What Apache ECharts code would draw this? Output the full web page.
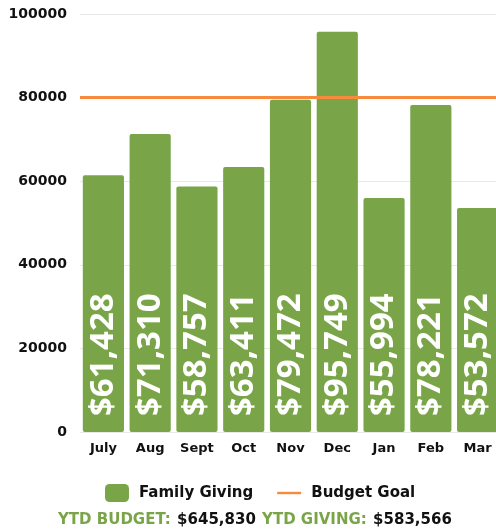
<!DOCTYPE html>
<html>
<head>
<meta charset="utf-8">
<script src="https://cdn.jsdelivr.net/npm/echarts@6/dist/echarts.min.js"></script>
<style>
  html, body { margin: 0; padding: 0; background: #fff; }
  #chart { width: 496px; height: 532px; }
</style>
</head>
<body>
<div id="chart"></div>
<script>
  const months = ['July', 'Aug', 'Sept', 'Oct', 'Nov', 'Dec', 'Jan', 'Feb', 'Mar'];
  const familyGiving = [61428, 71310, 58757, 63411, 79472, 95749, 55994, 78221, 53572];
  const budgetGoal = 80000;
  const yTicks = [0, 20000, 40000, 60000, 80000, 100000];
  const ytdBudget = '$645,830';
  const ytdGiving = '$583,566';

  const green = '#79a548';
  const orange = '#f78a3c';
  const font = 'DejaVu Sans';

  const chart = echarts.init(document.getElementById('chart'));

  chart.setOption({
    animation: false,
    textStyle: { fontFamily: font },
    title: {
      left: 53,
      top: 506,
      text: '{g|YTD BUDGET:} {b|' + ytdBudget + '} {g|YTD GIVING:} {b|' + ytdGiving + '}',
      textStyle: {
        rich: {
          g: { color: green, fontWeight: 'bold', fontSize: 15, fontFamily: font },
          b: { color: '#111', fontWeight: 'bold', fontSize: 15, fontFamily: font }
        }
      }
    },
    legend: {
      top: 479,
      left: 100,
      itemGap: 24,
      itemWidth: 24,
      itemHeight: 18,
      textStyle: {
        color: '#111', fontWeight: 'bold', fontSize: 15, fontFamily: font,
        padding: [0, 0, 0, 5]
      },
      data: [
        { name: 'Family Giving', icon: 'roundRect' },
        { name: 'Budget Goal', icon: 'path://M0,7H30V10H0Z' }
      ]
    },
    grid: {
      left: 80,
      right: -5,
      top: 14,
      bottom: 100,
      outerBoundsMode: 'none'
    },
    xAxis: {
      type: 'category',
      data: months,
      axisLine: { show: false },
      axisTick: { show: false },
      axisLabel: {
        color: '#111',
        fontWeight: 'bold',
        fontSize: 13,
        margin: 10
      }
    },
    yAxis: {
      type: 'value',
      min: yTicks[0],
      max: yTicks[yTicks.length - 1],
      interval: yTicks[1] - yTicks[0],
      axisLabel: {
        color: '#111',
        fontWeight: 'bold',
        fontSize: 14,
        margin: 13,
        formatter: v => String(v)
      },
      splitLine: { lineStyle: { color: '#e8e8e8' } }
    },
    series: [
      {
        name: 'Family Giving',
        type: 'bar',
        data: familyGiving,
        barCategoryGap: '12%',
        itemStyle: { color: green, borderRadius: 2 },
        label: {
          show: true,
          position: 'insideBottom',
          rotate: 90,
          align: 'left',
          verticalAlign: 'middle',
          distance: 16,
          color: '#fff',
          fontFamily: 'Open Sans',
          fontWeight: 'bold',
          fontSize: 33,
          formatter: p => '$' + p.value.toLocaleString('en-US')
        }
      },
      {
        name: 'Budget Goal',
        type: 'line',
        data: [],
        itemStyle: { color: orange },
        lineStyle: { color: orange, width: 3 },
        markLine: {
          silent: true,
          symbol: 'none',
          label: { show: false },
          lineStyle: { color: orange, width: 3, type: 'solid' },
          data: [{ yAxis: budgetGoal }]
        }
      }
    ]
  });
</script>
</body>
</html>
